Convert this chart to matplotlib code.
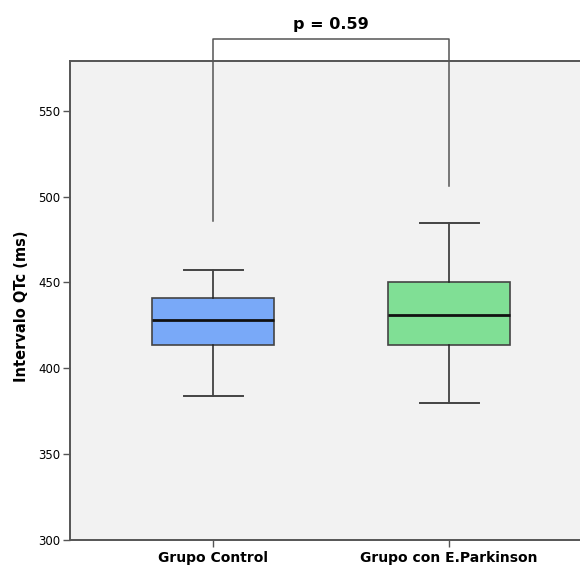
import numpy as np
import matplotlib.pyplot as plt

grupos = ['Grupo Control', 'Grupo con E.Parkinson']
bigote_inf = [384, 380]
q1 = [413.5, 413.5]
mediana = [428, 431]
q3 = [441, 450.5]
bigote_sup = [457.5, 484.5]
colores = ['#79a9f8', '#80df95']
p_valor = 0.59
# extremos del corchete de comparacion
corchete_izq = 486
corchete_der = 506
corchete_alto = 592

plt.rcParams['font.family'] = ['DejaVu Sans']

fig = plt.figure(figsize=(5.8, 5.68), dpi=100)
ax = fig.add_axes([0.1207, 0.0493, 0.89, 0.8433])
ax.set_facecolor('#f2f2f2')

stats = []
for i in range(len(grupos)):
    stats.append(dict(label=grupos[i], whislo=bigote_inf[i], q1=q1[i], med=mediana[i],
                      q3=q3[i], whishi=bigote_sup[i], fliers=[]))

pos = np.arange(1, len(grupos) + 1)
bp = ax.bxp(stats, positions=pos, widths=0.517, patch_artist=True, showfliers=False,
            boxprops=dict(edgecolor='#444444', linewidth=1.2),
            medianprops=dict(color='#111111', linewidth=2),
            whiskerprops=dict(color='#222222', linewidth=1.1),
            capprops=dict(color='#444444', linewidth=1.4),
            capwidths=0.25)
for caja, c in zip(bp['boxes'], colores):
    caja.set_facecolor(c)

ax.set_xlim(0.394, 0.394 + 0.89 * 580 / 236)
ax.set_ylim(300, 579)
ax.set_yticks([300, 350, 400, 450, 500, 550])
ax.set_xticks(pos)
ax.set_xticklabels(grupos, fontweight='bold', fontsize=10)
ax.tick_params(axis='y', labelsize=8.5, length=5, width=1, color='#555555', pad=2)
ax.tick_params(axis='x', length=5, width=1, color='#555555', pad=3)
ax.set_ylabel('Intervalo QTc (ms)', fontweight='bold', fontsize=10.5)
ax.yaxis.set_label_coords(-0.079, 0.487)

for s in ['left', 'bottom', 'top']:
    ax.spines[s].set_color('#555555')
    ax.spines[s].set_linewidth(1.4)
ax.spines['right'].set_visible(False)

# corchete con el valor p
ax.plot([pos[0], pos[0], pos[1], pos[1]],
        [corchete_izq, corchete_alto, corchete_alto, corchete_der],
        color='#555555', linewidth=1.1, clip_on=False, zorder=1)
ax.text((pos[0] + pos[1]) / 2, corchete_alto + 4, 'p = %.2f' % p_valor,
        ha='center', va='bottom', fontweight='bold', fontsize=11.5)

fig.savefig('out.png', dpi=100)
